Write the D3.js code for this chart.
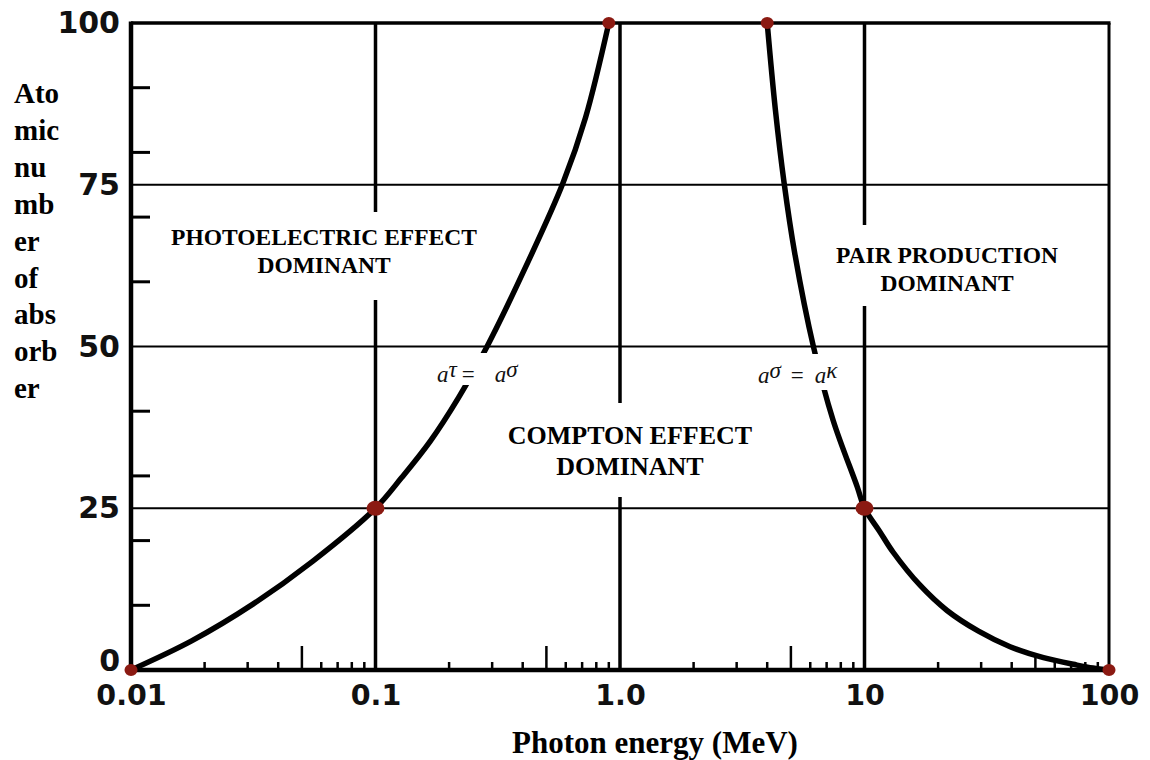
<!DOCTYPE html>
<html>
<head>
<meta charset="utf-8">
<script src="https://cdn.jsdelivr.net/npm/d3@7"></script>
<style>
  html, body { margin: 0; padding: 0; background: #fff; }
  svg { display: block; }
</style>
</head>
<body>
<svg id="chart" width="1150" height="760"></svg>
<script>
// ---------------- data ----------------
const energyTickValues = [0.01, 0.1, 1, 10, 100];
const energyTickLabels = ["0.01", "0.1", "1.0", "10", "100"];
const atomicTickValues = [0, 25, 50, 75, 100];
const atomicMinorTicks = [10, 20, 30, 40, 60, 70, 80, 90];
const gridEnergies = [0.1, 1, 10];
const gridAtomic = [25, 50, 75];

// boundary tau = sigma (photoelectric / Compton)
const tauSigmaEnergy = [0.01, 0.0177, 0.0313, 0.0553, 0.1, 0.1277, 0.167, 0.2186, 0.286, 0.409, 0.585, 0.723, 0.9];
const tauSigmaZ      = [0,    4.5,    10.1,   16.8,   25,  29.7,   35.3,  42.1,   50,    62.1,  75.3,  85.4,  100];

// boundary sigma = kappa (Compton / pair production)
const sigmaKappaEnergy = [4.0, 4.32, 4.69, 5.18, 6.18, 7.44, 9.34, 10, 11.5, 13.1, 16.87, 21.75, 29.26, 39.4, 53.95, 74,   86,  100];
const sigmaKappaZ      = [100, 86.6, 75.3, 64.5, 50,   38.6, 28.3, 25, 21.5, 18.2, 13.1,  9.2,   6.0,   3.6,  1.9,   0.76, 0.3, 0];

// highlighted points
const markerEnergy = [0.01, 0.1, 0.9, 4.0, 10, 100];
const markerZ      = [0,    25,  100, 100, 25, 0];

const regionLabels = [
  ["PHOTOELECTRIC EFFECT", "DOMINANT"],
  ["COMPTON EFFECT", "DOMINANT"],
  ["PAIR PRODUCTION", "DOMINANT"]
];
const boundarySymbols = [["τ", "σ"], ["σ", "κ"]];
const yTitleLines = ["Ato", "mic", "nu", "mb", "er", "of", "abs", "orb", "er"];
const xTitle = "Photon energy (MeV)";

// ---------------- layout ----------------
const svg = d3.select("#chart");
const L = 131, R = 1109, T = 23, B = 670;
const x = d3.scaleLog().domain([0.01, 100]).range([L, R]);
const y = d3.scaleLinear().domain([0, 100]).range([B, T]);

const ink = "#000";
const dotColor = "#8b1a12";

// horizontal grid
svg.append("g").selectAll("line").data(gridAtomic).join("line")
  .attr("x1", L).attr("x2", R)
  .attr("y1", d => y(d)).attr("y2", d => y(d))
  .attr("stroke", ink).attr("stroke-width", 2.2);

// vertical grid
svg.append("g").selectAll("line").data(gridEnergies).join("line")
  .attr("x1", d => x(d)).attr("x2", d => x(d))
  .attr("y1", T).attr("y2", B)
  .attr("stroke", ink).attr("stroke-width", 3.5);

// frame top/right
svg.append("line").attr("x1", L).attr("x2", R + 1.5).attr("y1", T).attr("y2", T)
  .attr("stroke", ink).attr("stroke-width", 3.5);
svg.append("line").attr("x1", R).attr("x2", R).attr("y1", T).attr("y2", B)
  .attr("stroke", ink).attr("stroke-width", 3);

// minor ticks on x (log)
const minor = x.ticks().filter(d => !energyTickValues.some(v => Math.abs(v - d) / v < 1e-6));
svg.append("g").selectAll("line").data(minor).join("line")
  .attr("x1", d => x(d)).attr("x2", d => x(d))
  .attr("y1", B)
  .attr("y2", d => {
    const m = Math.round(d / Math.pow(10, Math.floor(Math.log10(d) + 1e-9)));
    if (m === 5) return d > 10 ? B - 13 : B - 24;
    return B - 8;
  })
  .attr("stroke", ink).attr("stroke-width", 2.5);

// minor ticks on y
svg.append("g").selectAll("line").data(atomicMinorTicks).join("line")
  .attr("x1", L).attr("x2", L + 19)
  .attr("y1", d => y(d)).attr("y2", d => y(d))
  .attr("stroke", ink).attr("stroke-width", 3);

// axes
const xAxis = d3.axisBottom(x).tickValues(energyTickValues)
  .tickFormat((d, i) => energyTickLabels[i]).tickSize(0).tickPadding(15);
const gx = svg.append("g").attr("transform", `translate(0,${B})`).call(xAxis);
gx.select(".domain").remove();
gx.selectAll("text").attr("font-family", "DejaVu Sans").attr("font-weight", "bold")
  .attr("font-size", 28.5).attr("fill", "#111");

const yAxis = d3.axisLeft(y).tickValues(atomicTickValues).tickSize(0).tickPadding(11);
const gy = svg.append("g").attr("transform", `translate(${L},0)`).call(yAxis);
gy.select(".domain").remove();
gy.selectAll("text").attr("font-family", "DejaVu Sans").attr("font-weight", "bold")
  .attr("font-size", 30).attr("fill", "#111")
  .attr("transform", d => d === 0 ? "translate(0,-9)" : null);

svg.append("line").attr("x1", L).attr("x2", R + 1.5).attr("y1", B).attr("y2", B)
  .attr("stroke", ink).attr("stroke-width", 4.5);
svg.append("line").attr("x1", L).attr("x2", L).attr("y1", T - 1.5).attr("y2", B + 2)
  .attr("stroke", ink).attr("stroke-width", 4.5);

// curves
const line = d3.line().x(d => x(d[0])).y(d => y(d[1])).curve(d3.curveCatmullRom.alpha(0.5));
const c1 = tauSigmaEnergy.map((e, i) => [e, tauSigmaZ[i]]);
const c2 = sigmaKappaEnergy.map((e, i) => [e, sigmaKappaZ[i]]);
[c1, c2].forEach(c => {
  svg.append("path").attr("d", line(c)).attr("fill", "none")
    .attr("stroke", ink).attr("stroke-width", 5.5).attr("stroke-linecap", "round");
});

// labels with white backing
function boxedLabel(lines, cx, baseline, size, lh, padX, padTop, padBot) {
  const g = svg.append("g");
  const rect = g.append("rect").attr("fill", "#fff");
  const t = g.append("text").attr("font-family", "Liberation Serif, Times New Roman, serif")
    .attr("font-weight", "bold").attr("font-size", size).attr("text-anchor", "middle").attr("fill", "#000");
  lines.forEach((s, i) => t.append("tspan").attr("x", cx).attr("y", baseline + i * lh).text(s));
  const bb = t.node().getBBox();
  rect.attr("x", bb.x - padX).attr("y", bb.y - padTop)
    .attr("width", bb.width + 2 * padX).attr("height", bb.height + padTop + padBot);
}
boxedLabel(regionLabels[0], 324, 245, 23.5, 28, 10, 12, 22);
boxedLabel(regionLabels[1], 630, 444, 26, 31, 10, 18, 16);
boxedLabel(regionLabels[2], 947, 263, 23.5, 28, 10, 17, 10);

// math labels
function mathLabel(sym, x0, baseline, dxEq, dxA, padTop, padBot) {
  const g = svg.append("g");
  const rect = g.append("rect").attr("fill", "#fff");
  const t = g.append("text").attr("font-family", "Liberation Serif, Times New Roman, serif")
    .attr("font-style", "italic").attr("font-size", 23).attr("fill", "#111")
    .attr("x", x0).attr("y", baseline);
  t.append("tspan").text("a");
  t.append("tspan").attr("dy", -5).text(sym[0]);
  t.append("tspan").attr("dx", dxEq).attr("dy", 5).attr("font-style", "normal").text("=");
  t.append("tspan").attr("dx", dxA).text("a");
  t.append("tspan").attr("dy", -5).text(sym[1]);
  const bb = t.node().getBBox();
  rect.attr("x", bb.x - 3).attr("y", baseline - 29 + (12 - padTop))
    .attr("width", bb.width + 6).attr("height", 29 - (12 - padTop) + padBot);
}
mathLabel(boundarySymbols[0], 437, 382, 5, 20, 12, 3);
mathLabel(boundarySymbols[1], 758, 383, 10, 11, 12, 7);

// dots
svg.append("g").selectAll("ellipse").data(markerEnergy.map((e, i) => [e, markerZ[i]])).join("ellipse")
  .attr("cx", d => x(d[0])).attr("cy", d => y(d[1]))
  .attr("rx", d => d[1] === 25 ? 9 : 6.5).attr("ry", d => d[1] === 25 ? 7.5 : 6)
  .attr("fill", dotColor);

// titles
const yt = svg.append("text").attr("font-family", "Liberation Serif, Times New Roman, serif")
  .attr("font-weight", "bold").attr("font-size", 29).attr("fill", "#000");
yTitleLines.forEach((s, i) => yt.append("tspan").attr("x", 14).attr("y", 103 + i * 36.9).text(s));

svg.append("text").attr("x", 655).attr("y", 753).attr("text-anchor", "middle")
  .attr("font-family", "Liberation Serif, Times New Roman, serif").attr("font-weight", "bold")
  .attr("font-size", 31).attr("fill", "#000").text(xTitle);
</script>
</body>
</html>
